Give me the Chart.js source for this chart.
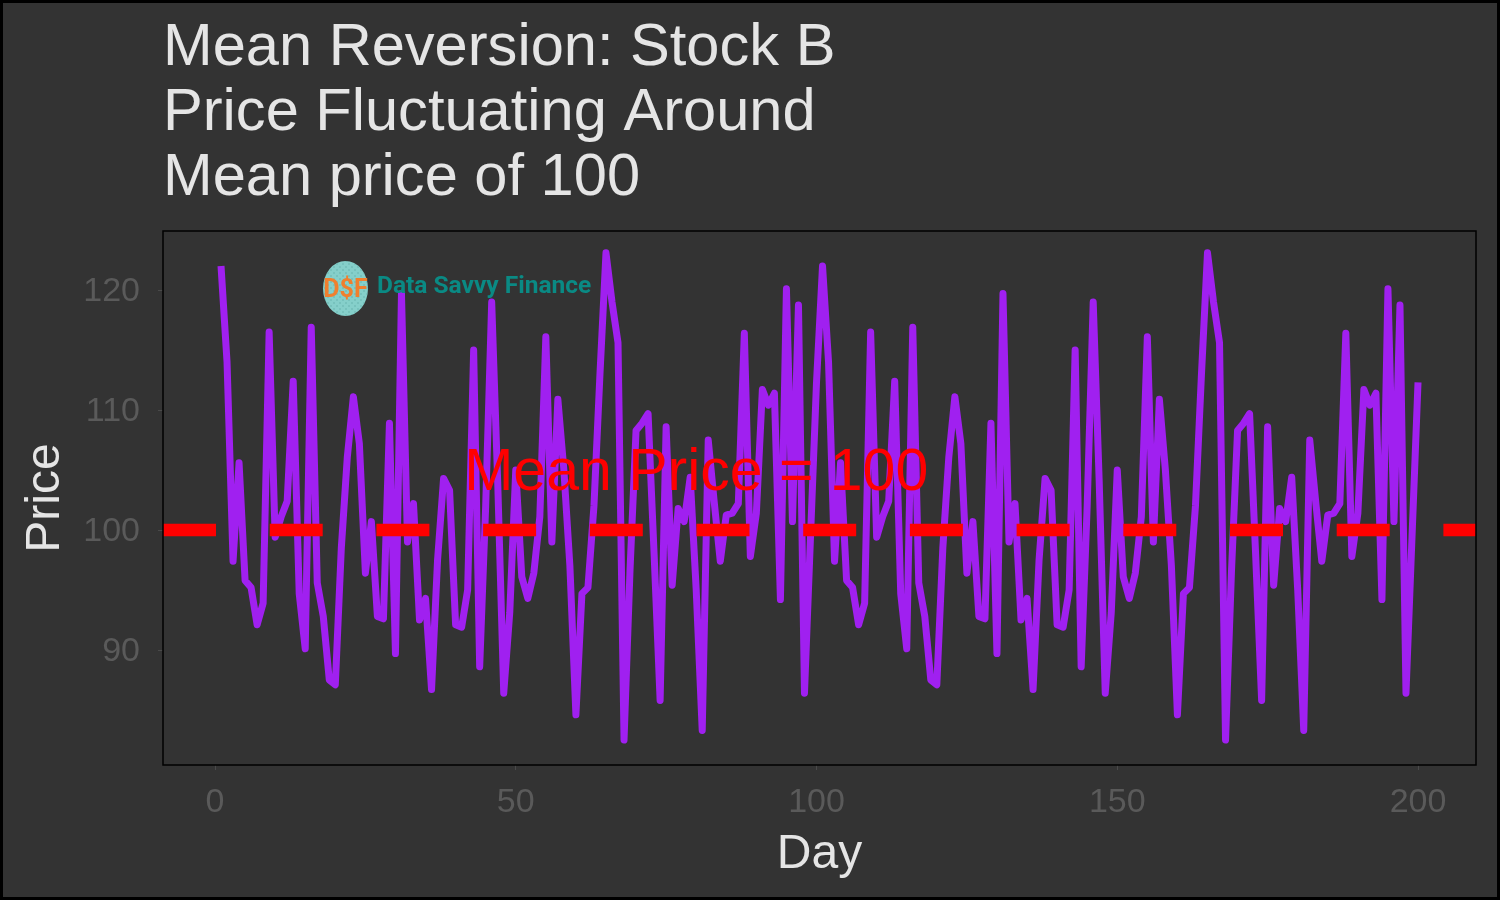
<!DOCTYPE html>
<html>
<head>
<meta charset="utf-8">
<script src="https://cdn.jsdelivr.net/npm/chart.js@4/dist/chart.umd.min.js"></script>
<style>
  html, body { margin: 0; padding: 0; background: #333333; }
  #wrap { width: 1500px; height: 900px; }
</style>
</head>
<body>
<div id="wrap"><canvas id="priceChart" width="1500" height="900"></canvas></div>
<script>
// chart text
const titleLines = ["Mean Reversion: Stock B", "Price Fluctuating Around", "Mean price of 100"];
const xTitle = "Day";
const yTitle = "Price";
const meanLabel = "Mean Price = 100";
const logoText = "Data Savvy Finance";

// values
const meanPrice = 100;
const labelDay = 80;
const labelPrice = 105;
const xTicks = [0, 50, 100, 150, 200];
const yTicks = [90, 100, 110, 120];

const pricesDays1to100 = [
  122, 114, 97.4, 105.6, 95.8, 95.2, 92.1, 93.9, 116.5, 99.4,
  101.1, 102.4, 112.4, 94.7, 90.1, 116.9, 95.6, 92.8, 87.5, 87.1,
  98.5, 106.1, 111.1, 107.2, 96.4, 100.7, 92.8, 92.6, 108.9, 89.7,
  119.7, 99.0, 102.2, 92.5, 94.3, 86.7, 97.5, 104.3, 103.3, 92.1,
  91.9, 95.0, 115.0, 88.6, 102, 119.0, 104, 86.4, 93.1, 105.0,
  96.1, 94.3, 96.4, 101.1, 116.1, 99.0, 110.9, 105, 97, 84.6,
  94.7, 95.2, 102, 113, 123.1, 119, 115.6, 82.5, 96.7, 108.3,
  108.9, 109.7, 98, 85.8, 108.6, 95.4, 101.8, 100.7, 104.4, 95,
  83.3, 107.5, 102.3, 97.4, 101.25, 101.4, 102.2, 116.4, 97.8, 101.4,
  111.7, 110.4, 111.4, 94.2, 120.1, 100.7, 118.75, 86.4, 99.4, 112.3
];
const pricesDays101to200 = [
  122, 114, 97.4, 105.6, 95.8, 95.2, 92.1, 93.9, 116.5, 99.4,
  101.1, 102.4, 112.4, 94.7, 90.1, 116.9, 95.6, 92.8, 87.5, 87.1,
  98.5, 106.1, 111.1, 107.2, 96.4, 100.7, 92.8, 92.6, 108.9, 89.7,
  119.7, 99.0, 102.2, 92.5, 94.3, 86.7, 97.5, 104.3, 103.3, 92.1,
  91.9, 95.0, 115.0, 88.6, 102, 119.0, 104, 86.4, 93.1, 105.0,
  96.1, 94.3, 96.4, 101.1, 116.1, 99.0, 110.9, 105, 97, 84.6,
  94.7, 95.2, 102, 113, 123.1, 119, 115.6, 82.5, 96.7, 108.3,
  108.9, 109.7, 98, 85.8, 108.6, 95.4, 101.8, 100.7, 104.4, 95,
  83.3, 107.5, 102.3, 97.4, 101.25, 101.4, 102.2, 116.4, 97.8, 101.4,
  111.7, 110.4, 111.4, 94.2, 120.1, 100.7, 118.75, 86.4, 99.4, 112.3
];

const prices = pricesDays1to100.concat(pricesDays101to200);
const days = prices.map((p, i) => i + 1);

// axis limits (ggplot style 5% expansion)
const xMin = -8.645, xMax = 209.64;
const yMin = 80.417, yMax = 124.917;

const titleFont = '"Liberation Sans", Arial, sans-serif';

const decor = {
  id: "decor",
  beforeDraw(chart) {
    const c = chart.ctx;
    c.save();
    c.fillStyle = "#333333";
    c.fillRect(0, 0, chart.width, chart.height);
    c.restore();
  },
  afterDatasetsDraw(chart) {
    const c = chart.ctx;
    const xs = chart.scales.x, ys = chart.scales.y;
    c.save();
    // mean label, centred on (labelDay, labelPrice)
    c.fillStyle = "#ff0000";
    c.font = "59px " + titleFont;
    c.textAlign = "center";
    c.textBaseline = "alphabetic";
    c.fillText(meanLabel, xs.getPixelForValue(labelDay), ys.getPixelForValue(labelPrice) + 20);

    // logo
    const cx = 345.5, cy = 288.5;
    c.beginPath();
    c.ellipse(cx, cy, 22.5, 27.5, 0, 0, Math.PI * 2);
    c.fillStyle = "#85cfca";
    c.fill();
    c.save();
    c.clip();
    c.fillStyle = "#4f9c97";
    for (let px = cx - 24; px < cx + 24; px += 3) {
      for (let py = cy - 28; py < cy + 28; py += 3) {
        if ((px + py) % 2 < 1) c.fillRect(px, py, 1, 1);
      }
    }
    c.restore();
    c.fillStyle = "#f07f2e";
    c.font = "bold 25px Roboto, sans-serif";
    c.textAlign = "center";
    c.textBaseline = "alphabetic";
    c.fillText("D$F", cx, 297);
    c.fillStyle = "#0a8a84";
    c.font = "bold 24.5px Roboto, sans-serif";
    c.textAlign = "left";
    c.fillText(logoText, 377, 293);
    c.restore();
  },
  afterDraw(chart) {
    const c = chart.ctx;
    const a = chart.chartArea;
    c.save();
    // panel border
    c.strokeStyle = "#000000";
    c.lineWidth = 1.5;
    c.strokeRect(a.left, a.top, a.right - a.left, a.bottom - a.top);
    // outer frame
    c.lineWidth = 3;
    c.strokeRect(1.5, 1.5, chart.width - 3, chart.height - 3);

    // title
    c.fillStyle = "#e5e5e5";
    c.font = "59.6px " + titleFont;
    c.textAlign = "left";
    c.textBaseline = "alphabetic";
    titleLines.forEach((t, i) => c.fillText(t, 163, 65 + i * 65));

    // axis titles
    c.font = "48px " + titleFont;
    c.textAlign = "center";
    c.fillText(xTitle, (a.left + a.right) / 2, 868);
    c.translate(59, (a.top + a.bottom) / 2);
    c.rotate(-Math.PI / 2);
    c.fillText(yTitle, 0, 0);
    c.restore();
  }
};

const ctx = document.getElementById("priceChart").getContext("2d");
const priceChart = new Chart(ctx, {
  type: "line",
  data: {
    datasets: [
      {
        label: "Mean",
        data: [{ x: xMin, y: meanPrice }, { x: xMax, y: meanPrice }],
        borderColor: "#ff0000",
        borderWidth: 12.5,
        borderDash: [53, 53.7],
        borderCapStyle: "butt",
        pointRadius: 0,
        order: 0
      },
      {
        label: "Price",
        data: days.map((d, i) => ({ x: d, y: prices[i] })),
        borderColor: "#a020f0",
        borderWidth: 7,
        borderJoinStyle: "round",
        borderCapStyle: "butt",
        pointRadius: 0,
        tension: 0,
        order: 1
      }
    ]
  },
  options: {
    responsive: false,
    animation: false,
    devicePixelRatio: 1,
    layout: { padding: { top: 231, right: 24, bottom: 0, left: 0 } },
    plugins: {
      legend: { display: false },
      tooltip: { enabled: false },
      title: { display: false }
    },
    scales: {
      x: {
        type: "linear",
        min: xMin,
        max: xMax,
        afterBuildTicks: (s) => { s.ticks = xTicks.map(v => ({ value: v })); },
        afterFit: (s) => { s.height = 135; },
        grid: { drawOnChartArea: false, drawTicks: true, tickLength: 5, color: "#4a4a4a" },
        border: { display: false },
        ticks: {
          color: "#5a5a5a",
          font: { size: 34, family: titleFont },
          padding: 12,
          maxRotation: 0
        }
      },
      y: {
        min: yMin,
        max: yMax,
        afterBuildTicks: (s) => { s.ticks = yTicks.map(v => ({ value: v })); },
        afterFit: (s) => { s.width = 163; },
        grid: { drawOnChartArea: false, drawTicks: true, tickLength: 5, color: "#4a4a4a" },
        border: { display: false },
        ticks: {
          color: "#5a5a5a",
          font: { size: 34, family: titleFont },
          padding: 18,
          labelOffset: 2
        }
      }
    }
  },
  plugins: [decor]
});
</script>
</body>
</html>
